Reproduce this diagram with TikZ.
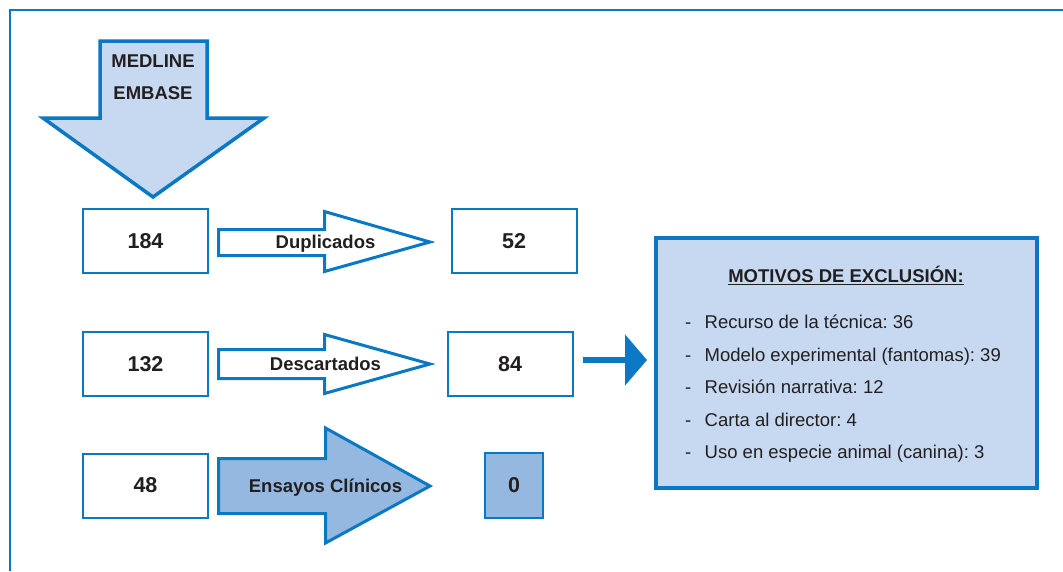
\documentclass[tikz,border=0pt]{standalone}
\usepackage{fontspec}
\setmainfont{Liberation Sans}
\usetikzlibrary{arrows.meta}
\definecolor{bblue}{RGB}{10,120,195}
\definecolor{lfill}{RGB}{198,217,240}
\definecolor{mfill}{RGB}{149,184,224}
\definecolor{txt}{RGB}{35,31,32}
\frenchspacing
\begin{document}
\begin{tikzpicture}[x=1pt,y=-1pt,
  frame/.style={draw=bblue,line width=2pt},
  numbox/.style={draw=bblue,line width=2pt,fill=white,minimum width=125pt,minimum height=64pt,inner sep=0pt,
    font=\fontsize{21.5}{24}\selectfont\bfseries,text=txt},
  blockarrow/.style={draw=bblue,line width=3pt,line join=miter,miter limit=10},
  lbl/.style={font=\fontsize{18.5}{21}\selectfont\bfseries,text=txt,inner sep=0pt},
  item/.style={font=\fontsize{18.5}{21}\selectfont,text=txt,inner sep=0pt,anchor=base west},
  conn/.style={draw=bblue,line width=6pt,-{Triangle[length=22pt,width=50pt]}}
]
\useasboundingbox (0,0) rectangle (1063,571);
\fill[white] (0,0) rectangle (1063,571);
% outer frame
\draw[frame] (10,571) -- (10,10) -- (1063,10);

% big down arrow
\draw[blockarrow,fill=lfill,line width=3.5pt] (100,41) -- (207,41) -- (207,118) -- (264,118) -- (153,197) -- (43,118) -- (100,118) -- cycle;
\node[lbl] (medline) at (153,61) {MEDLINE};
\node[lbl] (embase) at (153,93) {EMBASE};

% row 1
\node[numbox] (n184) at (145.5,241) {184};
\draw[blockarrow,fill=white] (218.5,229.5) -- (324.5,229.5) -- (324.5,211.5) -- (430,242) -- (324.5,271.5) -- (324.5,255.5) -- (218.5,255.5) -- cycle;
\node[lbl,anchor=base] (dup) at (325.5,248.8) {Duplicados};
\node[numbox] (n52) at (514,241) {52};

% row 2
\node[numbox] (n132) at (145.5,364) {132};
\draw[blockarrow,fill=white] (218.5,349.5) -- (324.5,349.5) -- (324.5,334.5) -- (430,364) -- (324.5,393.5) -- (324.5,378.5) -- (218.5,378.5) -- cycle;
\node[lbl,anchor=base] (desc) at (325.5,370.7) {Descartados};
\node[numbox] (n84) at (510,364) {84};

% row 3
\node[numbox] (n48) at (145.5,485.5) {48};
\draw[blockarrow,fill=mfill] (218.5,458.5) -- (325.5,458.5) -- (325.5,428) -- (430,486) -- (325.5,543) -- (325.5,513.5) -- (218.5,513.5) -- cycle;
\node[lbl,anchor=base] (ens) at (325.5,492.7) {Ensayos Clínicos};
\node[numbox,fill=mfill,minimum width=58pt,minimum height=65pt] (n0) at (514,485.5) {0};

% motivos box
\node[draw=bblue,line width=4pt,fill=lfill,minimum width=381pt,minimum height=250pt,inner sep=0pt] (mot) at (846.5,363) {};
\node[lbl,anchor=base] (title) at (846,282.6) {\underline{MOTIVOS DE EXCLUSIÓN:}};
\foreach \i/\yy/\t in {1/328.3/{Recurso de la técnica: 36},
                      2/361.6/{Modelo experimental (fantomas): 39},
                      3/393.3/{Revisión narrativa: 12},
                      4/426.6/{Carta al director: 4},
                      5/458.3/{Uso en especie animal (canina): 3}}{
  \node[item] (d\i) at (685,\yy) {-};
  \node[item] (it\i) at (704.5,\yy) {\t};
}

% connector
\draw[conn,shorten <=9pt,shorten >=7pt] ([yshift=4pt]n84.east) -- ([yshift=3pt]mot.west);
\end{tikzpicture}
\end{document}
